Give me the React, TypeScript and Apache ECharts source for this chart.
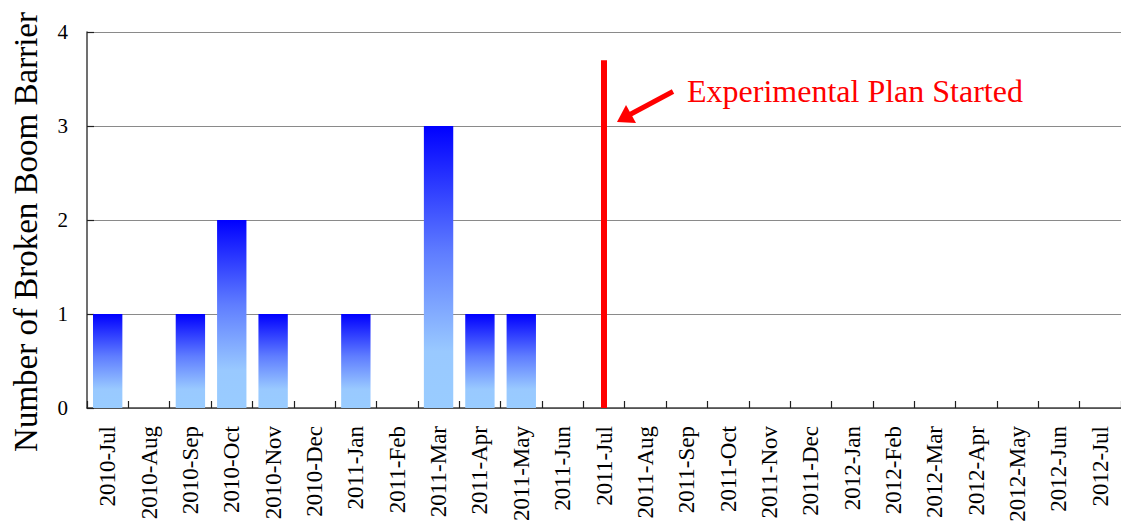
import React, { useEffect, useRef } from "react";
import * as echarts from "echarts";

// Monthly counts of broken boom barriers
const months: string[] = [
  "2010-Jul", "2010-Aug", "2010-Sep", "2010-Oct", "2010-Nov", "2010-Dec",
  "2011-Jan", "2011-Feb", "2011-Mar", "2011-Apr", "2011-May", "2011-Jun",
  "2011-Jul", "2011-Aug", "2011-Sep", "2011-Oct", "2011-Nov", "2011-Dec",
  "2012-Jan", "2012-Feb", "2012-Mar", "2012-Apr", "2012-May", "2012-Jun",
  "2012-Jul",
];
const brokenCounts: number[] = [
  1, 0, 1, 2, 1, 0, 1, 0, 3, 1, 1, 0, 0, 0, 0, 0, 0, 0, 0, 0, 0, 0, 0, 0, 0,
];
const yTicks: number[] = [0, 1, 2, 3, 4];

// Start of the experimental plan, drawn as a vertical marker
const planStartMonth = "2011-Jul";
const planMarkerTop = 3.7;
const planLabel = "Experimental Plan Started";

const FONT = "Liberation Serif";

export default function App() {
  const ref = useRef<HTMLDivElement>(null);

  useEffect(() => {
    if (!ref.current) return;
    const chart = echarts.init(ref.current, undefined, { renderer: "svg" });

    const barGradient = new echarts.graphic.LinearGradient(0, 0, 0, 1, [
      { offset: 0, color: "#0000ff" },
      { offset: 0.45, color: "#5f7dff" },
      { offset: 0.8, color: "#99c9ff" },
      { offset: 1, color: "#99ccff" },
    ]);

    chart.setOption({
      animation: false,
      backgroundColor: "#ffffff",
      textStyle: { fontFamily: FONT },
      grid: { left: 87, right: -5, top: 32, bottom: 117, containLabel: false },
      xAxis: {
        type: "category",
        data: months,
        boundaryGap: true,
        axisLine: { lineStyle: { color: "#404040", width: 1.5 } },
        axisTick: { show: true, inside: true, length: 7, lineStyle: { color: "#202020", width: 1.2 } },
        axisLabel: {
          interval: 0,
          rotate: 90,
          margin: 18,
          fontFamily: FONT,
          fontSize: 23,
          color: "#000",
        },
        splitLine: { show: false },
      },
      yAxis: {
        type: "value",
        min: yTicks[0],
        max: yTicks[yTicks.length - 1],
        interval: 1,
        axisLine: { show: true, lineStyle: { color: "#404040", width: 1.5 } },
        axisTick: { show: true, inside: true, length: 7, lineStyle: { color: "#202020", width: 1.2 } },
        axisLabel: {
          margin: 19,
          fontFamily: FONT,
          fontSize: 21,
          color: "#000",
        },
        splitLine: { show: true, lineStyle: { color: "#8a8a8a", width: 1.2 } },
      },
      series: [
        {
          type: "bar",
          data: brokenCounts,
          barCategoryGap: "29%",
          itemStyle: { color: barGradient },
          markLine: {
            silent: true,
            symbol: ["none", "none"],
            label: { show: false },
            lineStyle: { color: "#ff0000", width: 6, type: "solid" },
            data: [
              [
                { coord: [planStartMonth, 0] },
                { coord: [planStartMonth, planMarkerTop] },
              ],
            ],
          },
        },
      ],
      graphic: [
        {
          type: "text",
          x: 26,
          y: 232,
          rotation: Math.PI / 2,
          style: {
            text: "Number of Broken Boom Barrier",
            fontFamily: FONT,
            fontSize: 33,
            fill: "#000",
            align: "center",
            verticalAlign: "middle",
          },
        },
        {
          type: "text",
          x: 687,
          y: 91,
          style: {
            text: planLabel,
            fontFamily: FONT,
            fontSize: 32,
            fill: "#ff0000",
            align: "left",
            verticalAlign: "middle",
          },
        },
        {
          type: "line",
          shape: { x1: 673, y1: 91.5, x2: 630, y2: 114.5 },
          style: { stroke: "#ff0000", lineWidth: 5 },
        },
        {
          type: "polygon",
          shape: {
            points: [
              [617, 122],
              [626, 105],
              [636, 123],
            ],
          },
          style: { fill: "#ff0000" },
        },
      ],
    });

    return () => chart.dispose();
  }, []);

  return (
    <div
      ref={ref}
      style={{ position: "fixed", left: 0, top: 0, width: 1121, height: 525 }}
    />
  );
}
